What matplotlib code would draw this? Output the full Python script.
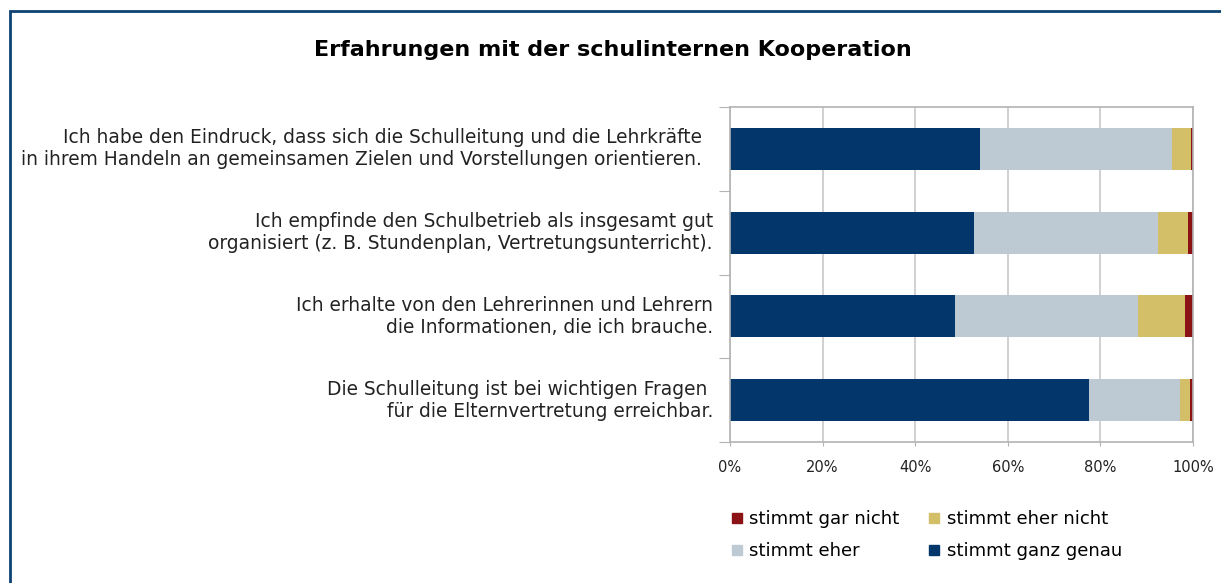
import matplotlib.pyplot as plt
from matplotlib.lines import Line2D
import numpy as np

# Data (shares in percent)
questions = [
    "Ich habe den Eindruck, dass sich die Schulleitung und die Lehrkräfte\n"
    "in ihrem Handeln an gemeinsamen Zielen und Vorstellungen orientieren.",
    "Ich empfinde den Schulbetrieb als insgesamt gut\n"
    "organisiert (z. B. Stundenplan, Vertretungsunterricht).",
    "Ich erhalte von den Lehrerinnen und Lehrern\n"
    "die Informationen, die ich brauche.",
    "Die Schulleitung ist bei wichtigen Fragen \n"
    "für die Elternvertretung erreichbar.",
]
ganz_genau = [54.0, 52.7, 48.6, 77.5]
eher = [41.5, 39.7, 39.5, 19.7]
eher_nicht = [4.1, 6.5, 10.2, 2.2]
gar_nicht = [0.4, 1.1, 1.7, 0.6]

series = [
    ("stimmt ganz genau", ganz_genau, "#03376b"),
    ("stimmt eher", eher, "#bdc9d3"),
    ("stimmt eher nicht", eher_nicht, "#d3bf67"),
    ("stimmt gar nicht", gar_nicht, "#8b1316"),
]

fig = plt.figure(figsize=(12.21, 5.83), dpi=100)
ax = fig.add_axes([730 / 1221, 1 - 442 / 583, 463 / 1221, 335 / 583])

# Stacked horizontal bars
y = np.arange(len(questions))
left = np.zeros(len(questions))
for name, vals, color in series:
    ax.barh(y, vals, left=left, height=0.5, color=color, zorder=2)
    left += np.array(vals)

ax.set_xlim(0, 100)
ax.set_ylim(len(questions) - 0.5, -0.5)
ax.set_xticks(np.arange(0, 101, 20))
ax.set_xticklabels([f"{v}%" for v in range(0, 101, 20)], fontsize=10.5, color="#222222")
ax.tick_params(axis="x", length=3, color="#b3b3b3", pad=10)

# category boundaries as ticks, question texts drawn next to the axis
ax.set_yticks(np.arange(-0.5, len(questions)))
ax.set_yticklabels([])
ax.tick_params(axis="y", length=8, color="#b3b3b3")
for i, q in enumerate(questions):
    # the first (too long) label sits a bit further left, like in the original
    off = 28 if i == 0 else 17
    ax.annotate(q, xy=(0, i), xycoords=("axes fraction", "data"),
                xytext=(-off, 0), textcoords="offset pixels",
                ha="right", va="center", multialignment="right",
                fontsize=13.4, color="#222222", linespacing=1.2)

ax.grid(axis="x", color="#c8c8c8", linewidth=1.2, zorder=0)
for s in ax.spines.values():
    s.set_color("#b3b3b3")
    s.set_linewidth(1.2)

fig.text(613 / 1221, 1 - 50 / 583, "Erfahrungen mit der schulinternen Kooperation",
         ha="center", va="center", fontsize=16, fontweight="bold")

# Legend
colors = {name: color for name, _, color in series}
order = ["stimmt gar nicht", "stimmt eher", "stimmt eher nicht", "stimmt ganz genau"]
handles = [Line2D([], [], marker="s", linestyle="none", markersize=7.5,
                  color=colors[n]) for n in order]
fig.legend(handles, order, ncol=2, loc="upper left", frameon=False,
           bbox_to_anchor=(722 / 1221, 1 - 503 / 583), fontsize=13.1,
           handlelength=0.8, handletextpad=0.3, columnspacing=1.5,
           labelspacing=0.75, borderaxespad=0)

# Dark blue frame (right and bottom edges lie outside the picture)
fig.add_artist(plt.Rectangle((10 / 1221, -0.1), 1.2, 1 - 11 / 583 + 0.1,
                             transform=fig.transFigure, fill=False,
                             edgecolor="#0e4273", linewidth=2))

fig.savefig("out.png", dpi=100)
